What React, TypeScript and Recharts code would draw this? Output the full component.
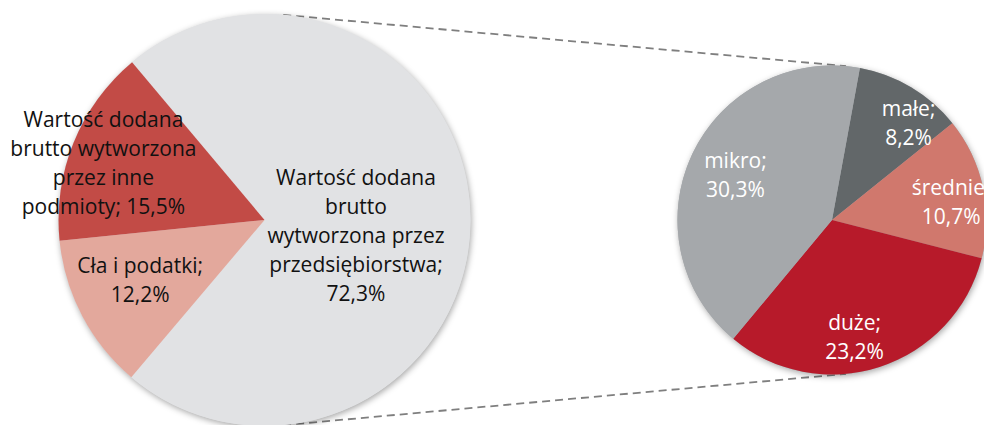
import { PieChart, Pie, Cell } from 'recharts';

// udział w wartości dodanej brutto (%)
const mainLabels = [
  'Wartość dodana\nbrutto\nwytworzona przez\nprzedsiębiorstwa;\n{v}',
  'Cła i podatki;\n{v}',
  'Wartość dodana\nbrutto wytworzona\nprzez inne\npodmioty; {v}',
];
const mainValues = [72.3, 12.2, 15.5];
const mainColors = ['#e1e2e4', '#e3a89c', '#c24b46'];

// przedsiębiorstwa wg wielkości (%)
const firmLabels = ['małe;\n{v}', 'średnie;\n{v}', 'duże;\n{v}', 'mikro;\n{v}'];
const firmValues = [8.2, 10.7, 23.2, 30.3];
const firmColors = ['#626769', '#d0786d', '#b71a2a', '#a5a8ab'];

const mainData = mainValues.map((value, i) => ({ name: mainLabels[i], value }));
const firmData = firmValues.map((value, i) => ({ name: firmLabels[i], value }));

const W = 984;
const H = 425;
const MAIN = { cx: 264.5, cy: 220, r: 206, start: 130 };
const SUB = { cx: 832, cy: 220, r: 154.5, start: 79.6 };

// where Excel put each label: fraction of the radius and angle nudge
const mainLabelPos = [
  { k: 0.45, da: -9 },
  { k: 0.67, da: -2 },
  { k: 0.83, da: 2.5 },
];
const firmLabelPos = [
  { k: 0.8, da: -7.5 },
  { k: 0.78, da: -3.5 },
  { k: 0.77, da: -7 },
  { k: 0.69, da: 0 },
];

const FONT = '"Open Sans", sans-serif';
const LINE = 29;
const RAD = Math.PI / 180;

const fmt = (v: number) => v.toFixed(1).replace('.', ',') + '%';

function makeLabel(pos: { k: number; da: number }[], color: string) {
  return (props: any) => {
    const { cx, cy, midAngle, outerRadius, index, value, name } = props;
    const p = pos[index];
    const a = (midAngle + p.da) * RAD;
    const x = cx + outerRadius * p.k * Math.cos(a);
    const y = cy - outerRadius * p.k * Math.sin(a);
    const lines = String(name).replace('{v}', fmt(value)).split('\n');
    const y0 = y - ((lines.length - 1) * LINE) / 2;
    return (
      <g key={`lbl-${index}`}>
        {lines.map((t, i) => (
          <text
            key={i}
            x={x}
            y={y0 + i * LINE}
            textAnchor="middle"
            dominantBaseline="central"
            fill={color}
            fontSize={21}
            fontFamily={FONT}
          >
            {t}
          </text>
        ))}
      </g>
    );
  };
}

// common outer tangents of the two circles
function seriesLines() {
  const d = SUB.cx - MAIN.cx;
  const s = (MAIN.r - SUB.r) / d;
  const c = Math.sqrt(1 - s * s);
  return [-1, 1].map((dir) => ({
    x1: MAIN.cx + MAIN.r * s,
    y1: MAIN.cy + dir * MAIN.r * c,
    x2: SUB.cx + SUB.r * s,
    y2: SUB.cy + dir * SUB.r * c,
  }));
}

const shadow = { filter: 'drop-shadow(1px 2px 3px rgba(0,0,0,0.35))' };

export default function App() {
  return (
    <div style={{ width: W, height: H, background: '#fff', overflow: 'hidden' }}>
      <style>{'body{margin:0}'}</style>
      <PieChart width={W} height={H} margin={{ top: 0, right: 0, bottom: 0, left: 0 }}>
        {seriesLines().map((l, i) => (
          <line key={i} {...l} stroke="#7f7f7f" strokeWidth={1.8} strokeDasharray="8 5" />
        ))}
        <Pie
          data={[{ value: 1 }]}
          dataKey="value"
          cx={MAIN.cx}
          cy={MAIN.cy}
          outerRadius={MAIN.r}
          stroke="none"
          isAnimationActive={false}
        >
          <Cell fill="#e1e2e4" style={shadow} />
        </Pie>
        <Pie
          data={[{ value: 1 }]}
          dataKey="value"
          cx={SUB.cx}
          cy={SUB.cy}
          outerRadius={SUB.r}
          stroke="none"
          isAnimationActive={false}
        >
          <Cell fill="#a5a8ab" style={shadow} />
        </Pie>
        <Pie
          data={mainData}
          dataKey="value"
          nameKey="name"
          cx={MAIN.cx}
          cy={MAIN.cy}
          outerRadius={MAIN.r}
          startAngle={MAIN.start}
          endAngle={MAIN.start - 360}
          stroke="none"
          labelLine={false}
          label={makeLabel(mainLabelPos, '#111')}
          isAnimationActive={false}
        >
          {mainColors.map((c, i) => (
            <Cell key={i} fill={c} />
          ))}
        </Pie>
        <Pie
          data={firmData}
          dataKey="value"
          nameKey="name"
          cx={SUB.cx}
          cy={SUB.cy}
          outerRadius={SUB.r}
          startAngle={SUB.start}
          endAngle={SUB.start - 360}
          stroke="none"
          labelLine={false}
          label={makeLabel(firmLabelPos, '#fff')}
          isAnimationActive={false}
        >
          {firmColors.map((c, i) => (
            <Cell key={i} fill={c} />
          ))}
        </Pie>
      </PieChart>
    </div>
  );
}
